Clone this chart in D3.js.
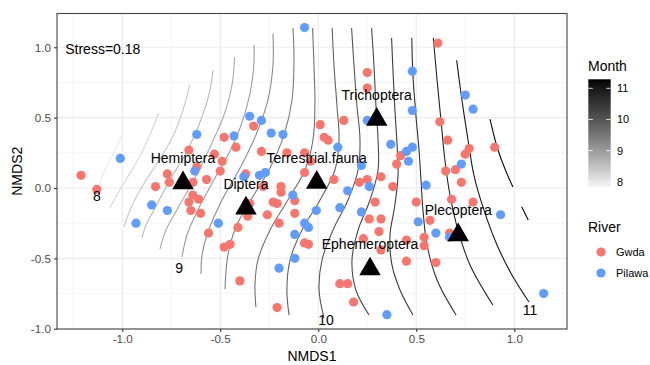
<!DOCTYPE html>
<html><head><meta charset="utf-8">
<script src="https://cdn.jsdelivr.net/npm/d3@7"></script>
<style>body{margin:0;background:#fff;} svg{display:block;font-family:"Liberation Sans",Arial,sans-serif;}</style>
</head><body><svg id="c" width="650" height="365"></svg>
<script>
// ---- data ----
const gwda = [[-1.21,0.09],[-1.13,-0.01],[-0.77,0.10],[-0.76,0.04],[-0.83,0.01],[-0.64,0.04],[-0.57,0.06],[-0.50,0.12],[-0.64,-0.05],[-0.61,-0.08],[-0.66,-0.10],[-0.65,-0.16],[-0.60,-0.18],[-0.56,-0.32],[-0.41,-0.28],[-0.45,-0.40],[-0.48,-0.42],[-0.40,-0.66],[-0.21,-0.85],[-0.37,0.10],[-0.28,0.01],[-0.19,0.01],[-0.19,-0.03],[-0.23,-0.10],[-0.21,-0.11],[-0.12,-0.09],[-0.12,-0.18],[-0.26,-0.19],[-0.35,-0.11],[-0.36,-0.20],[-0.20,-0.25],[-0.07,-0.39],[-0.05,-0.40],[-0.07,0.11],[-0.33,0.44],[-0.48,0.36],[-0.42,0.29],[-0.66,0.27],[-0.29,0.26],[-0.53,0.24],[-0.16,0.25],[-0.07,0.25],[-0.49,0.19],[-0.62,0.15],[-0.04,0.19],[0.61,1.03],[0.25,0.82],[0.25,0.71],[0.01,0.45],[0.13,0.48],[0.62,0.47],[0.03,0.36],[0.05,0.34],[0.66,0.34],[0.90,0.29],[0.77,0.28],[0.75,0.24],[0.42,0.23],[0.40,0.17],[0.65,0.12],[0.70,0.13],[0.08,0.06],[0.21,0.04],[0.25,0.06],[0.32,0.08],[0.38,0.01],[0.73,0.04],[0.29,-0.10],[0.26,-0.22],[0.32,-0.22],[0.31,-0.31],[0.23,-0.36],[0.32,-0.44],[0.50,-0.10],[0.68,-0.08],[0.79,-0.10],[0.57,-0.23],[0.67,-0.32],[0.54,-0.35],[0.54,-0.41],[0.45,-0.37],[0.45,-0.52],[0.60,-0.53],[0.11,-0.68],[0.15,-0.68],[0.18,-0.81]];
const pilawa = [[-0.07,1.14],[-0.35,0.51],[-0.29,0.48],[-0.62,0.38],[-0.43,0.37],[-0.24,0.39],[-0.18,0.38],[-1.01,0.21],[-0.63,0.12],[-0.38,0.08],[-0.30,0.09],[-0.27,0.11],[-0.85,-0.12],[-0.77,-0.16],[-0.93,-0.25],[-0.51,-0.25],[-0.13,-0.05],[-0.07,-0.25],[-0.05,-0.28],[-0.12,-0.33],[-0.12,-0.50],[-0.20,-0.57],[0.48,0.83],[0.75,0.66],[0.79,0.56],[0.48,0.55],[0.25,0.48],[0.10,0.29],[0.37,0.31],[0.48,0.29],[0.45,0.26],[0.46,0.19],[0.22,0.16],[0.73,0.17],[0.26,0.01],[0.55,0.02],[0.15,-0.02],[-0.01,-0.16],[0.11,-0.14],[0.22,-0.17],[0.51,-0.24],[0.60,-0.32],[0.67,-0.35],[0.93,-0.19],[1.15,-0.75],[0.35,-0.90]];

const speciesNames = ["Hemiptera","Diptera","Terrestrial.fauna","Trichoptera","Ephemeroptera","Plecoptera"];
const speciesX = [-0.690,-0.369,-0.008,0.298,0.264,0.714];
const speciesY = [0.036,-0.144,0.039,0.487,-0.576,-0.334];

const contourLevels = [8.0,8.2,8.4,8.6,8.8,9.0,9.2,9.4,9.6,9.8,10.0,10.2,10.4,10.6,10.8,11.0,11.2,11.2];
const contourLines = [
 [[-1.002,0.370],[-1.043,0.256],[-1.083,0.142],[-1.124,0.014]],
 [[-0.814,0.533],[-0.859,0.377],[-0.915,0.213],[-0.976,0.071],[-1.027,-0.050],[-1.063,-0.142]],
 [[-0.656,0.734],[-0.690,0.554],[-0.746,0.355],[-0.818,0.185],[-0.894,0.021],[-0.956,-0.142],[-0.991,-0.277]],
 [[-0.537,0.837],[-0.558,0.661],[-0.609,0.448],[-0.680,0.235],[-0.757,0.057],[-0.833,-0.142],[-0.879,-0.263],[-0.899,-0.355]],
 [[-0.427,0.929],[-0.440,0.732],[-0.481,0.519],[-0.547,0.306],[-0.629,0.071],[-0.716,-0.142],[-0.777,-0.299],[-0.808,-0.434]],
 [[-0.327,1.014],[-0.333,0.803],[-0.369,0.554],[-0.435,0.306],[-0.527,0.071],[-0.614,-0.156],[-0.670,-0.334],[-0.695,-0.490]],
 [[-0.231,1.097],[-0.231,0.874],[-0.257,0.625],[-0.318,0.377],[-0.399,0.142],[-0.491,-0.085],[-0.563,-0.313],[-0.593,-0.476],[-0.598,-0.611]],
 [[-0.129,1.137],[-0.124,0.910],[-0.134,0.625],[-0.175,0.377],[-0.246,0.142],[-0.338,-0.071],[-0.420,-0.277],[-0.461,-0.476],[-0.476,-0.718]],
 [[-0.029,1.137],[-0.022,0.874],[-0.017,0.590],[-0.027,0.341],[-0.068,0.128],[-0.155,-0.085],[-0.246,-0.299],[-0.308,-0.512],[-0.323,-0.689],[-0.318,-0.846]],
 [[0.071,1.137],[0.080,0.874],[0.095,0.590],[0.106,0.341],[0.085,0.128],[0.009,-0.085],[-0.083,-0.299],[-0.144,-0.512],[-0.160,-0.725],[-0.149,-0.903]],
 [[0.170,1.137],[0.182,0.874],[0.197,0.590],[0.213,0.341],[0.203,0.128],[0.152,-0.085],[0.075,-0.299],[0.019,-0.512],[0.004,-0.725],[0.029,-0.924]],
 [[0.272,1.137],[0.284,0.874],[0.294,0.590],[0.305,0.341],[0.305,0.128],[0.264,-0.085],[0.203,-0.299],[0.172,-0.512],[0.192,-0.725],[0.259,-0.903]],
 [[0.374,1.066],[0.381,0.839],[0.391,0.554],[0.402,0.306],[0.407,0.092],[0.391,-0.121],[0.366,-0.334],[0.376,-0.547],[0.417,-0.725],[0.483,-0.903]],
 [[0.477,1.066],[0.483,0.803],[0.498,0.519],[0.514,0.270],[0.524,0.057],[0.534,-0.156],[0.555,-0.405],[0.606,-0.654],[0.703,-0.903]],
 [[0.587,1.066],[0.606,0.768],[0.626,0.483],[0.646,0.199],[0.672,-0.050],[0.713,-0.299],[0.774,-0.547],[0.891,-0.832]],
 [[0.706,0.908],[0.733,0.625],[0.764,0.341],[0.794,0.092],[0.845,-0.156],[0.912,-0.405],[0.988,-0.618],[1.075,-0.810]],
 [[0.876,0.490],[0.917,0.270],[0.961,0.107],[0.993,0.007]],
 [[1.038,-0.133],[1.071,-0.227]]
];
const contourLabelText = ["8","9","10","11"];
const contourLabelX = [-1.13,-0.71,0.04,1.08];
const contourLabelY = [-0.06,-0.57,-0.94,-0.87];

const xTicks = [-1.0,-0.5,0.0,0.5,1.0];
const yTicks = [-1.0,-0.5,0.0,0.5,1.0];
const xMinor = [-1.25,-0.75,-0.25,0.25,0.75,1.25];
const yMinor = [-0.75,-0.25,0.25,0.75];
const monthTicks = [8,9,10,11];
const monthRange = [7.84,11.29];
const riverNames = ["Gwda","Pilawa"];
const riverColors = ["#F8766D","#619CFF"];
const stressText = "Stress=0.18";

// ---- drawing ----
const svg = d3.select("#c");
const P = {l:57, r:567, t:13.5, b:329};
const x = d3.scaleLinear().domain([-1.333,1.269]).range([P.l,P.r]);
const y = d3.scaleLinear().domain([-1.002,1.240]).range([P.b,P.t]);
const col = d3.scaleLinear().domain(monthRange).range(["#f4f4f4","#000000"]).interpolate(d3.interpolateLab);

svg.append("rect").attr("width",650).attr("height",365).attr("fill","#fff");
const g = svg.append("g");
g.append("rect").attr("x",P.l).attr("y",P.t).attr("width",P.r-P.l).attr("height",P.b-P.t).attr("fill","#fff");
// grid
g.selectAll(".gxm").data(xMinor).join("line").attr("x1",d=>x(d)).attr("x2",d=>x(d)).attr("y1",P.t).attr("y2",P.b).attr("stroke","#ebebeb").attr("stroke-width",0.55);
g.selectAll(".gym").data(yMinor).join("line").attr("y1",d=>y(d)).attr("y2",d=>y(d)).attr("x1",P.l).attr("x2",P.r).attr("stroke","#ebebeb").attr("stroke-width",0.55);
g.selectAll(".gx").data(xTicks).join("line").attr("x1",d=>x(d)).attr("x2",d=>x(d)).attr("y1",P.t).attr("y2",P.b).attr("stroke","#ebebeb").attr("stroke-width",1.1);
g.selectAll(".gy").data(yTicks).join("line").attr("y1",d=>y(d)).attr("y2",d=>y(d)).attr("x1",P.l).attr("x2",P.r).attr("stroke","#ebebeb").attr("stroke-width",1.1);

// contours
svg.append("clipPath").attr("id","pc").append("rect").attr("x",P.l).attr("y",P.t).attr("width",P.r-P.l).attr("height",P.b-P.t);
const line = d3.line().x(d=>x(d[0])).y(d=>y(d[1])).curve(d3.curveCatmullRom.alpha(0.5));
g.append("g").attr("clip-path","url(#pc)").selectAll("path").data(contourLines).join("path")
  .attr("d",line).attr("fill","none").attr("stroke",(d,i)=>col(contourLevels[i])).attr("stroke-width",1.1);

// points
const pts = g.append("g");
pts.selectAll(".gw").data(gwda).join("circle").attr("cx",d=>x(d[0])).attr("cy",d=>y(d[1])).attr("r",4.6).attr("fill",riverColors[0]);
pts.selectAll(".pl").data(pilawa).join("circle").attr("cx",d=>x(d[0])).attr("cy",d=>y(d[1])).attr("r",4.6).attr("fill",riverColors[1]);

// contour labels
g.selectAll(".cl").data(contourLabelText).join("text").attr("x",(d,i)=>x(contourLabelX[i])).attr("y",(d,i)=>y(contourLabelY[i]))
  .attr("text-anchor","middle").attr("dominant-baseline","central").attr("font-size",14).attr("fill","#000").text(d=>d);

// species
const tri = d3.symbol().type(d3.symbolTriangle).size(200);
g.selectAll(".sp").data(speciesNames).join("path").attr("d",tri).attr("transform",(d,i)=>`translate(${x(speciesX[i])},${y(speciesY[i])})`).attr("fill","#000");
g.selectAll(".spl").data(speciesNames).join("text").attr("x",(d,i)=>x(speciesX[i])).attr("y",(d,i)=>y(speciesY[i]+0.175))
  .attr("text-anchor","middle").attr("dominant-baseline","central").attr("font-size",14).attr("fill","#000").text(d=>d);

// stress
g.append("text").attr("x",x(-1.291)).attr("y",y(0.988)).attr("dominant-baseline","central").attr("font-size",14).attr("fill","#000").text(stressText);

// border
g.append("rect").attr("x",P.l).attr("y",P.t).attr("width",P.r-P.l).attr("height",P.b-P.t).attr("fill","none").attr("stroke","#444").attr("stroke-width",1.1);

// axes
const fmt = d=>d.toFixed(1);
const ax = svg.append("g").attr("transform",`translate(0,${P.b})`).call(d3.axisBottom(x).tickValues(xTicks).tickSize(3).tickPadding(3).tickFormat(fmt));
const ay = svg.append("g").attr("transform",`translate(${P.l},0)`).call(d3.axisLeft(y).tickValues(yTicks).tickSize(3).tickPadding(3).tickFormat(fmt));
[ax,ay].forEach(a=>{a.select(".domain").remove();a.selectAll(".tick line").attr("stroke","#333").attr("stroke-width",1.1);
  a.selectAll("text").attr("fill","#4d4d4d").attr("font-size",11.7).attr("font-family","Liberation Sans, Arial, sans-serif");});
svg.append("text").attr("x",(P.l+P.r)/2).attr("y",356).attr("text-anchor","middle").attr("dominant-baseline","central").attr("font-size",14).text("NMDS1");
svg.append("text").attr("transform",`translate(17,${(P.t+P.b)/2}) rotate(-90)`).attr("text-anchor","middle").attr("dominant-baseline","central").attr("font-size",14).text("NMDS2");

// legend: Month
const L = svg.append("g");
L.append("text").attr("x",588).attr("y",66).attr("dominant-baseline","central").attr("font-size",14).text("Month");
const ly = d3.scaleLinear().domain(monthRange).range([186.7,79.3]);
const grad = svg.append("defs").append("linearGradient").attr("id","mg").attr("x1",0).attr("y1",1).attr("x2",0).attr("y2",0);
d3.range(0,1.0001,0.05).forEach(t=>grad.append("stop").attr("offset",t).attr("stop-color",col(monthRange[0]+t*(monthRange[1]-monthRange[0]))));
L.append("rect").attr("x",588.3).attr("y",ly(monthRange[1])).attr("width",22.4).attr("height",ly(monthRange[0])-ly(monthRange[1])).attr("fill","url(#mg)");
monthTicks.forEach(m=>{
  L.append("line").attr("x1",588.3).attr("x2",592.8).attr("y1",ly(m)).attr("y2",ly(m)).attr("stroke","#fff").attr("stroke-opacity",0.8).attr("stroke-width",1);
  L.append("line").attr("x1",606.2).attr("x2",610.7).attr("y1",ly(m)).attr("y2",ly(m)).attr("stroke","#fff").attr("stroke-opacity",0.8).attr("stroke-width",1);
  L.append("text").attr("x",617).attr("y",ly(m)).attr("dominant-baseline","central").attr("font-size",11).attr("fill","#000").text(m);
});
// legend: River
L.append("text").attr("x",588).attr("y",227).attr("dominant-baseline","central").attr("font-size",14).text("River");
riverNames.forEach((r,i)=>{
  L.append("circle").attr("cx",601).attr("cy",252+i*21).attr("r",4.6).attr("fill",riverColors[i]);
  L.append("text").attr("x",616).attr("y",252+i*21).attr("dominant-baseline","central").attr("font-size",11).text(r);
});
</script></body></html>
